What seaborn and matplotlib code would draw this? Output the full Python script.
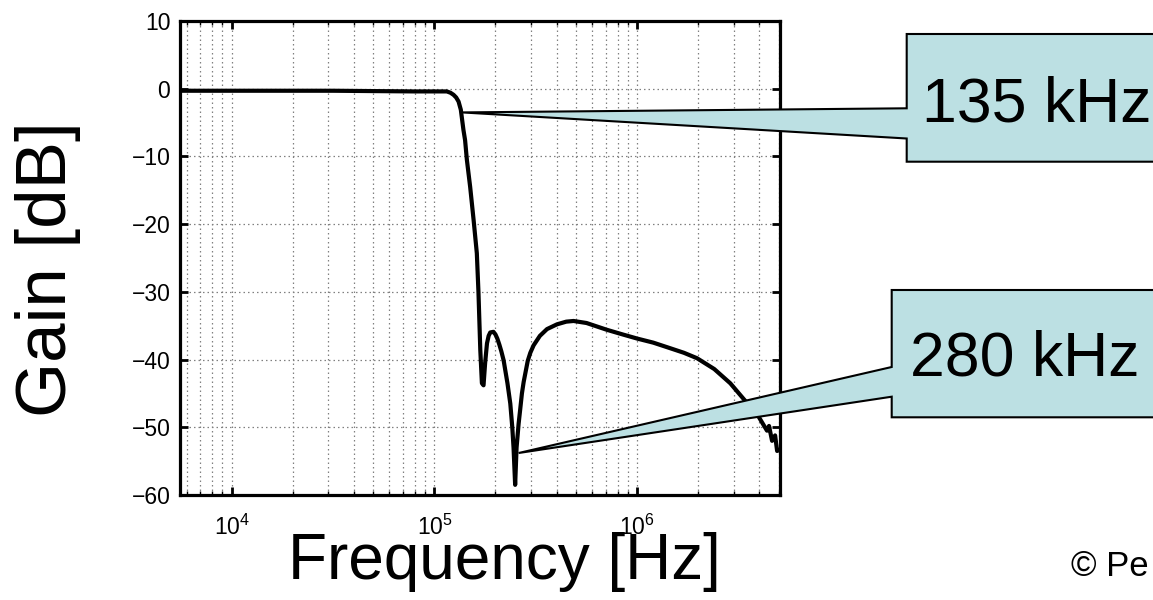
import matplotlib
matplotlib.use("Agg")
import matplotlib.pyplot as plt
import seaborn as sns
from matplotlib.patches import Polygon
from matplotlib.ticker import LogLocator, NullFormatter

freq_hz = [5.56e3, 3.16e4, 7.94e4, 1.0e5, 1.151e5, 1.20e5, 1.242e5, 1.28e5,
           1.315e5, 1.349e5, 1.39e5, 1.416e5, 1.445e5, 1.50e5, 1.56e5,
           1.618e5, 1.648e5, 1.683e5, 1.714e5, 1.746e5, 1.778e5, 1.816e5,
           1.85e5, 1.884e5, 1.954e5, 2.0e5, 2.042e5, 2.09e5, 2.138e5, 2.193e5,
           2.291e5, 2.366e5, 2.42e5, 2.455e5, 2.50e5, 2.541e5, 2.60e5, 2.649e5,
           2.70e5, 2.754e5, 2.884e5, 2.97e5, 3.083e5, 3.311e5, 3.589e5,
           4.018e5, 4.467e5, 4.853e5, 5.623e5, 7.079e5, 8.5e5, 1.0e6, 1.2e6,
           1.413e6, 1.7e6, 1.972e6, 2.399e6, 2.877e6, 3.388e6, 3.89e6,
           4.169e6, 4.365e6, 4.467e6, 4.624e6, 4.786e6, 4.898e6, 5.06e6]
gain_db = [-0.3, -0.3, -0.4, -0.4, -0.4, -0.6, -0.9, -1.3,
           -1.9, -3.1, -6.1, -7.6, -10.5, -14.5, -19.4,
           -24.3, -30.0, -38.6, -43.5, -43.8, -40.5, -37.6,
           -36.5, -36.0, -35.9, -36.3, -36.9, -37.8, -38.8, -40.1,
           -43.5, -46.5, -50.0, -53.0, -58.5, -53.0, -49.5, -47.3,
           -45.0, -43.3, -40.2, -39.0, -37.9, -36.5, -35.5,
           -34.8, -34.4, -34.3, -34.6, -35.6, -36.3, -36.9, -37.5,
           -38.2, -39.0, -39.8, -41.4, -43.5, -46.0, -48.0,
           -49.5, -50.5, -49.8, -52.0, -51.2, -53.5, -53.3]

xtick_vals = [1e4, 1e5, 1e6]
xtick_labels = ["$10^{4}$", "$10^{5}$", "$10^{6}$"]
ytick_vals = [10, 0, -10, -20, -30, -40, -50, -60]

# callouts: label, tip (Hz, dB)
callout_labels = ["135 kHz", "280 kHz"]
callout_tip_hz = [1.365e5, 2.60e5]
callout_tip_db = [-3.5, -53.8]

sns.set_theme(style="ticks")
plt.rcParams["font.family"] = ["Liberation Sans", "DejaVu Sans"]
plt.rcParams["mathtext.default"] = "regular"
for key in ["text.color", "axes.labelcolor", "xtick.color", "ytick.color",
            "xtick.labelcolor", "ytick.labelcolor"]:
    plt.rcParams[key] = "black"

W, H = 1153, 600
fig = plt.figure(figsize=(W / 100, H / 100), dpi=100)
ax = fig.add_axes([180 / W, 1 - 495 / H, 600 / W, 474 / H])
ax.set_xscale("log")

sns.lineplot(x=freq_hz, y=gain_db, ax=ax, color="black", linewidth=3.0, sort=False)

ax.set_xlim(5.56e3, 5.06e6)
ax.set_ylim(-60, 10)
ax.set_xticks(xtick_vals, labels=xtick_labels)
ax.set_yticks(ytick_vals)
ax.xaxis.set_minor_locator(LogLocator(base=10, subs=range(2, 10), numticks=20))
ax.xaxis.set_minor_formatter(NullFormatter())

grid_style = dict(color="#808080", linestyle=(0, (1.2, 2.4)), linewidth=0.9)
ax.grid(True, which="major", axis="both", **grid_style)
ax.grid(True, which="minor", axis="x", **grid_style)

ax.tick_params(which="both", direction="in", top=True, right=True,
               labelsize=16.5, colors="black")
ax.tick_params(axis="y", pad=7)
ax.tick_params(axis="x", pad=14)
ax.tick_params(which="major", length=6, width=2)
ax.tick_params(which="minor", length=3, width=1)
for s in ax.spines.values():
    s.set_linewidth(2.3)
    s.set_color("black")

ax.set_xlabel("Frequency [Hz]", fontsize=46)
ax.xaxis.set_label_coords((504 - 180) / 600, (495 - 532) / 474)
ax.set_ylabel("Gain [dB]", fontsize=51)
ax.yaxis.set_label_coords((81 - 180) / 600, (495 - 269) / 474)

# speech-bubble callouts, drawn in figure pixels with tip from data coords
boxes = [
    dict(left=906.7, top=34, bottom=161.7, w_top=108.3, w_bot=138.5, base=121.7, tx=922),
    dict(left=891.7, top=290, bottom=417.3, w_top=367, w_bot=396.7, base=375, tx=910),
]
to_fig = ax.transData + fig.transFigure.inverted()
for label, fx, fy, b in zip(callout_labels, callout_tip_hz, callout_tip_db, boxes):
    tip = to_fig.transform((fx, fy))
    right = 1170
    pts_px = [(b["left"], b["top"]), (right, b["top"]), (right, b["bottom"]),
              (b["left"], b["bottom"]), (b["left"], b["w_bot"])]
    pts = [(x / W, 1 - y / H) for x, y in pts_px]
    pts.append(tuple(tip))
    pts.append((b["left"] / W, 1 - b["w_top"] / H))
    poly = Polygon(pts, closed=True, facecolor="#bce0e3", edgecolor="black",
                   linewidth=1.5, transform=fig.transFigure, zorder=10)
    fig.add_artist(poly)
    fig.text(b["tx"] / W, 1 - b["base"] / H, label,
             fontsize=45, va="baseline", ha="left", zorder=11)

fig.text(1071 / W, 1 - 576 / H, "© Pe", fontsize=25, va="baseline", ha="left")

fig.savefig("out.png", dpi=100)
